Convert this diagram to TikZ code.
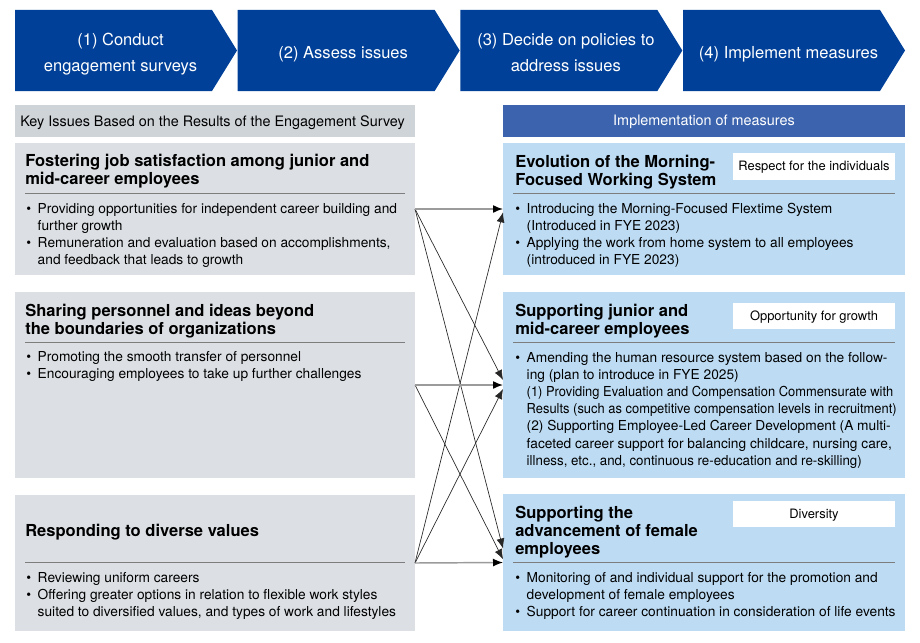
\documentclass[tikz,border=0pt]{standalone}
\usepackage{fontspec}
\setmainfont{TeX Gyre Heros}
\usepackage{graphicx}
\usetikzlibrary{arrows.meta, fit}

\definecolor{chevblue}{RGB}{0,64,152}
\definecolor{hdrblue}{RGB}{60,100,174}
\definecolor{hdrgray}{RGB}{207,212,217}
\definecolor{issuegray}{RGB}{220,224,228}
\definecolor{measureblue}{RGB}{189,220,244}
\definecolor{rulegray}{RGB}{125,125,125}
\definecolor{linkgray}{RGB}{155,155,155}

\newcommand{\sqz}[1]{\scalebox{0.94}[1]{#1}}

\begin{document}
\begin{tikzpicture}[x=0.75pt, y=-0.75pt,
    chevron/.style={fill=chevblue},
    steptext/.style={text=white, align=center, font=\fontsize{12.4}{19.5}\selectfont},
    issuebox/.style={fill=issuegray, inner sep=0pt, outer sep=0pt},
    measurebox/.style={fill=measureblue, inner sep=0pt, outer sep=0pt},
    heading/.style={anchor=north west, inner sep=0pt, font=\bfseries\fontsize{12.4}{13.5}\selectfont},
    bullets/.style={anchor=north west, inner sep=0pt, font=\fontsize{10.3}{12.9}\selectfont},
    tagbox/.style={fill=white, inner sep=0pt, minimum width=121.5pt, minimum height=20pt, text height=6.5pt, text depth=0.5pt, font=\fontsize{9.7}{11}\selectfont},
    divider/.style={draw=rulegray, line width=0.6pt},
    linkarrow/.style={draw=linkgray, line width=1.1pt, -{Latex[length=7.5pt, width=6pt, color=black]}},
    crossarrow/.style={draw=black!85, line width=0.5pt, -{Latex[length=7.5pt, width=6pt]}}]
    \useasboundingbox (0,0) rectangle (920,642);

    \foreach \i/\txt in {0/{(1) Conduct\\engagement surveys}, 1/{(2) Assess issues}, 2/{(3) Decide on policies to\\address issues}, 3/{(4) Implement measures}} {
        \fill[chevron] ({15+222.67*\i},10) -- ++(197,0) -- ++(25,40.5) -- ++(-25,40.5) -- ++(-197,0) -- cycle;
        \node[steptext] (step\i) at ({120.5+222.67*\i},53.6) {\strut\txt\strut};
    }

    \node[fill=hdrgray, inner sep=0pt, outer sep=0pt, fit={(15,105) (415,137)}] (keyhdr) {};
    \node[anchor=west, inner sep=0pt, font=\fontsize{10.8}{13}\selectfont] (keytxt) at (20,123) {Key Issues Based on the Results of the Engagement Survey};
    \node[fill=hdrblue, text=white, inner sep=0pt, minimum width=301.5pt, minimum height=24pt, text height=7.5pt, text depth=0.5pt, font=\fontsize{10.8}{13}\selectfont] (meashdr) at (704,121) {Implementation of measures};

    \node[issuebox, fit={(15,143) (415,275)}] (iss1) {};
    \node[issuebox, fit={(15,292) (415,478)}] (iss2) {};
    \node[issuebox, fit={(15,495) (415,631)}] (iss3) {};
    \node[measurebox, fit={(503,143) (905,275)}] (meas1) {};
    \node[measurebox, fit={(503,292) (905,478)}] (meas2) {};
    \node[measurebox, fit={(503,494) (905,631)}] (meas3) {};

    \node[heading] (iss1head) at (25,154) {\begin{tabular}{@{}l@{}}Fostering job satisfaction among junior and\\mid-career employees\end{tabular}};
    \draw[divider] (25,193) -- (405,193);
    \node[bullets] (iss1list) at (26,200.7) {\begin{tabular}{@{}l@{\hspace{5pt}}l@{}}
        \textbullet & Providing opportunities for independent career building and\\
        & further growth\\
        \textbullet & Remuneration and evaluation based on accomplishments,\\
        & and feedback that leads to growth
    \end{tabular}};

    \node[heading] (iss2head) at (25,304) {\begin{tabular}{@{}l@{}}Sharing personnel and ideas beyond\\the boundaries of organizations\end{tabular}};
    \draw[divider] (25,342) -- (405,342);
    \node[bullets] (iss2list) at (26,348.7) {\begin{tabular}{@{}l@{\hspace{5pt}}l@{}}
        \textbullet & Promoting the smooth transfer of personnel\\
        \textbullet & Encouraging employees to take up further challenges
    \end{tabular}};

    \node[heading] (iss3head) at (25,524) {\begin{tabular}{@{}l@{}}Responding to diverse values\end{tabular}};
    \draw[divider] (25,562) -- (405,562);
    \node[bullets] (iss3list) at (26,569.7) {\begin{tabular}{@{}l@{\hspace{5pt}}l@{}}
        \textbullet & Reviewing uniform careers\\
        \textbullet & Offering greater options in relation to flexible work styles\\
        & suited to diversified values, and types of work and lifestyles
    \end{tabular}};

    \node[heading] (meas1head) at (515,155) {\begin{tabular}{@{}l@{}}Evolution of the Morning-\\Focused Working System\end{tabular}};
    \node[tagbox] (tag1) at (814,166.5) {Respect for the individuals};
    \draw[divider] (513,193) -- (895,193);
    \node[bullets] (meas1list) at (515,200.7) {\begin{tabular}{@{}l@{\hspace{5pt}}l@{}}
        \textbullet & Introducing the Morning-Focused Flextime System\\
        & (Introduced in FYE 2023)\\
        \textbullet & Applying the work from home system to all employees\\
        & (introduced in FYE 2023)
    \end{tabular}};

    \node[heading] (meas2head) at (515,304) {\begin{tabular}{@{}l@{}}Supporting junior and\\mid-career employees\end{tabular}};
    \node[tagbox] (tag2) at (814,316) {Opportunity for growth};
    \draw[divider] (513,342) -- (895,342);
    \node[bullets] (meas2list) at (515,349.7) {\begin{tabular}{@{}l@{\hspace{5pt}}l@{}}
        \textbullet & Amending the human resource system based on the follow-\\
        & ing (plan to introduce in FYE 2025)\\
        & \sqz{(1) Providing Evaluation and Compensation Commensurate with}\\
        & \sqz{Results (such as competitive compensation levels in recruitment)}\\
        & (2) Supporting Employee-Led Career Development (A multi-\\
        & faceted career support for balancing childcare, nursing care,\\
        & \scalebox{0.97}[1]{illness, etc., and, continuous re-education and re-skilling)}
    \end{tabular}};

    \node[heading] (meas3head) at (515,506) {\begin{tabular}{@{}l@{}}Supporting the\\advancement of female\\employees\end{tabular}};
    \node[tagbox] (tag3) at (814,514) {Diversity};
    \draw[divider] (513,562) -- (895,562);
    \node[bullets] (meas3list) at (515,569.7) {\begin{tabular}{@{}l@{\hspace{5pt}}l@{}}
        \textbullet & Monitoring of and individual support for the promotion and\\
        & development of female employees\\
        \textbullet & Support for career continuation in consideration of life events
    \end{tabular}};

    \draw[crossarrow] (iss1.east) -- ([yshift=3.75pt]meas2.west);
    \draw[crossarrow] (iss1.east) -- ([yshift=10.5pt]meas3.west);
    \draw[crossarrow] (iss2.east) -- ([yshift=2.5pt]meas3.west);
    \draw[crossarrow] (iss3.east) -- ([yshift=-2.5pt]meas1.west);
    \draw[crossarrow] (iss3.east) -- ([yshift=-3pt]meas2.west);
    \draw[linkarrow] (iss1.east) -- (meas1.west);
    \draw[linkarrow] (iss2.east) -- (meas2.west);
    \draw[linkarrow] (iss3.east) -- (meas3.west);
\end{tikzpicture}
\end{document}
